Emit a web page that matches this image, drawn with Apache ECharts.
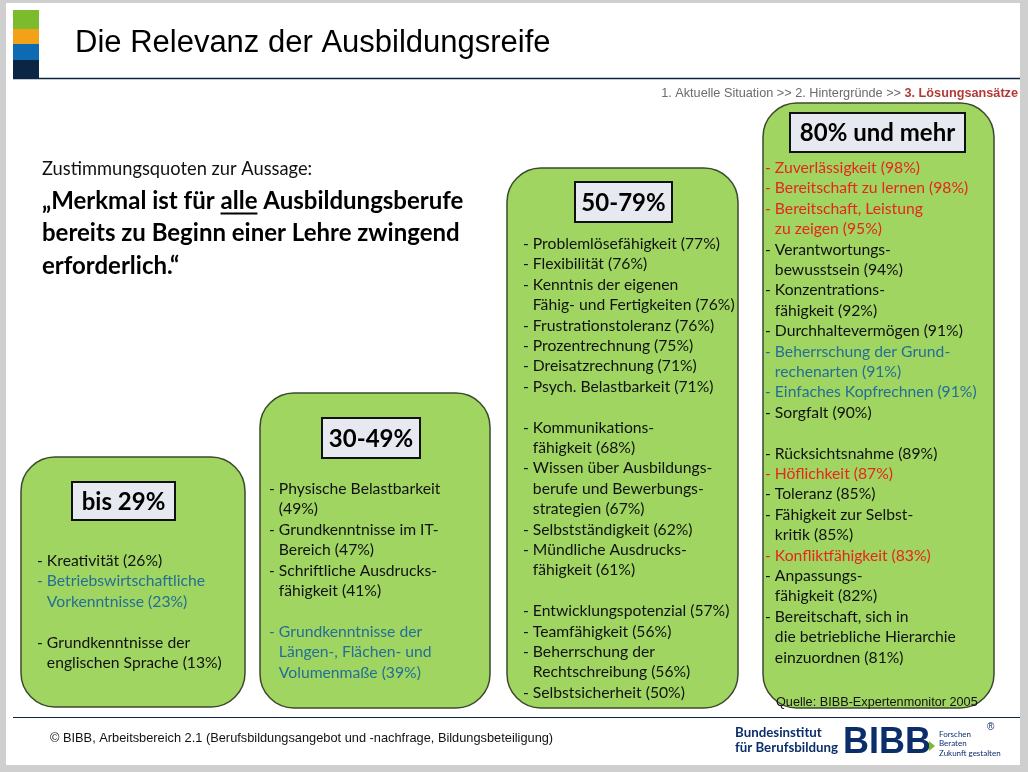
<!DOCTYPE html>
<html><head><meta charset="utf-8">
<script src="https://cdn.jsdelivr.net/npm/echarts@6/dist/echarts.min.js"></script>
<style>html,body{margin:0;padding:0;background:#cfcfcf}#c{width:1028px;height:772px}</style>
</head><body><div id="c"></div>
<script>
// ---------- data ----------
const slideTitle = 'Die Relevanz der Ausbildungsreife';
const breadcrumb = ['1. Aktuelle Situation >> 2. Hintergründe >> ', '3. Lösungsansätze'];
const introLine = 'Zustimmungsquoten zur Aussage:';
const quoteLines = ['„Merkmal ist für |alle| Ausbildungsberufe', 'bereits zu Beginn einer Lehre zwingend', 'erforderlich.“'];
const groupLabels = ['bis 29%', '30-49%', '50-79%', '80% und mehr'];
// items: paragraphs of [name, value, tone]  (tone: k = black, b = blue, r = red)
const group1Items = [
  [['Kreativität', 26, 'k'], ['Betriebswirtschaftliche\nVorkenntnisse', 23, 'b']],
  [['Grundkenntnisse der\nenglischen Sprache', 13, 'k']]
];
const group2Items = [
  [['Physische Belastbarkeit\n', 49, 'k'], ['Grundkenntnisse im IT-\nBereich', 47, 'k'], ['Schriftliche Ausdrucks-\nfähigkeit', 41, 'k']],
  [['Grundkenntnisse der\nLängen-, Flächen- und\nVolumenmaße', 39, 'b']]
];
const group3Items = [
  [['Problemlösefähigkeit', 77, 'k'], ['Flexibilität', 76, 'k'], ['Kenntnis der eigenen\nFähig- und Fertigkeiten', 76, 'k'], ['Frustrationstoleranz', 76, 'k'], ['Prozentrechnung', 75, 'k'], ['Dreisatzrechnung', 71, 'k'], ['Psych. Belastbarkeit', 71, 'k']],
  [['Kommunikations-\nfähigkeit', 68, 'k'], ['Wissen über Ausbildungs-\nberufe und Bewerbungs-\nstrategien', 67, 'k'], ['Selbstständigkeit', 62, 'k'], ['Mündliche Ausdrucks-\nfähigkeit', 61, 'k']],
  [['Entwicklungspotenzial', 57, 'k'], ['Teamfähigkeit', 56, 'k'], ['Beherrschung der\nRechtschreibung', 56, 'k'], ['Selbstsicherheit', 50, 'k']]
];
const group4Items = [
  [['Zuverlässigkeit', 98, 'r'], ['Bereitschaft zu lernen', 98, 'r'], ['Bereitschaft, Leistung\nzu zeigen', 95, 'r'], ['Verantwortungs-\nbewusstsein', 94, 'k'], ['Konzentrations-\nfähigkeit', 92, 'k'], ['Durchhaltevermögen', 91, 'k'], ['Beherrschung der Grund-\nrechenarten', 91, 'b'], ['Einfaches Kopfrechnen', 91, 'b'], ['Sorgfalt', 90, 'k']],
  [['Rücksichtsnahme', 89, 'k'], ['Höflichkeit', 87, 'r'], ['Toleranz', 85, 'k'], ['Fähigkeit zur Selbst-\nkritik', 85, 'k'], ['Konfliktfähigkeit', 83, 'r'], ['Anpassungs-\nfähigkeit', 82, 'k'], ['Bereitschaft, sich in\ndie betriebliche Hierarchie\neinzuordnen', 81, 'k']]
];
const sourceNote = 'Quelle: BIBB-Expertenmonitor 2005';
const footerNote = '© BIBB, Arbeitsbereich 2.1 (Berufsbildungsangebot und -nachfrage, Bildungsbeteiligung)';
const logoLeft = ['Bundesinstitut', 'für Berufsbildung'];
const logoMark = 'BIBB';
const logoClaim = ['Forschen', 'Beraten', 'Zukunft gestalten'];

// ---------- layout / style ----------
const toneColor = {k: '#111111', b: '#236f96', r: '#e5271c'};
const boxes = [
  {x: 21, y: 457, w: 224, h: 250, lx: 72, ly: 482, lw: 103, lh: 38, tx: 37, ty: 561},
  {x: 260, y: 393, w: 230, h: 315, lx: 322, ly: 418, lw: 98, lh: 40, tx: 269, ty: 489},
  {x: 507, y: 168, w: 231, h: 540, lx: 575, ly: 182, lw: 97, lh: 40, tx: 523, ty: 244},
  {x: 763, y: 103, w: 231, h: 605, lx: 790, ly: 113, lw: 175, lh: 39, tx: 765, ty: 168}
];
const allItems = [group1Items, group2Items, group3Items, group4Items];
const LH = 20.4;
const bodyFont = 'Lato, "Open Sans", sans-serif';
const arial = '"Liberation Sans", Arial, sans-serif';

const ctx = document.createElement('canvas').getContext('2d');
function tw(text, font) { ctx.font = font; return ctx.measureText(text).width; }

const g = [];
// slide
g.push({type: 'rect', shape: {x: 6, y: 3, width: 1014, height: 762}, style: {fill: '#ffffff'}, silent: true});
// logo bars
[['#7bbb2c', 10, 19], ['#f4a11a', 29, 15], ['#0d6ab3', 44, 16], ['#0b2545', 60, 18]].forEach(b => {
  g.push({type: 'rect', shape: {x: 13, y: b[1], width: 26, height: b[2]}, style: {fill: b[0]}});
});
g.push({type: 'line', shape: {x1: 13, y1: 78.5, x2: 1020, y2: 78.5}, style: {stroke: '#0b2545', lineWidth: 1.5}});
g.push({type: 'text', x: 75, y: 43, style: {text: slideTitle, font: '31px ' + arial, fill: '#000', verticalAlign: 'middle'}});
// breadcrumb
const bcFontA = '12.7px ' + arial, bcFontB = 'bold 12.7px ' + arial;
const bcW2 = tw(breadcrumb[1], bcFontB);
g.push({type: 'text', x: 1018 - bcW2, y: 93, style: {text: breadcrumb[0], font: bcFontA, fill: '#6b6b6b', align: 'right', verticalAlign: 'middle'}});
g.push({type: 'text', x: 1018, y: 93, style: {text: breadcrumb[1], font: bcFontB, fill: '#b23a36', align: 'right', verticalAlign: 'middle'}});
// intro
g.push({type: 'text', x: 42, y: 169, style: {text: introLine, font: '18.3px ' + bodyFont, fill: '#111', verticalAlign: 'middle'}});
const qFont = 'bold 24px ' + bodyFont;
quoteLines.forEach((ln, i) => {
  const y = 201 + i * 32.5;
  const parts = ln.split('|');
  let x = 42;
  parts.forEach((p, j) => {
    g.push({type: 'text', x: x, y: y, style: {text: p, font: qFont, fill: '#000', verticalAlign: 'middle'}});
    const w = tw(p, qFont);
    if (j === 1) g.push({type: 'line', shape: {x1: x, y1: y + 12.5, x2: x + w, y2: y + 12.5}, style: {stroke: '#000', lineWidth: 2}});
    x += w;
  });
});
// boxes
const itemFont = '15.7px ' + bodyFont;
const dashW = tw('- ', itemFont);
boxes.forEach((b, gi) => {
  g.push({type: 'rect', shape: {x: b.x, y: b.y, width: b.w, height: b.h, r: 34}, style: {fill: '#a0d562', stroke: '#3b4a2c', lineWidth: 1.5}});
  g.push({type: 'rect', shape: {x: b.lx, y: b.ly, width: b.lw, height: b.lh}, style: {fill: '#e7e9f1', stroke: '#111', lineWidth: 2}});
  g.push({type: 'text', x: b.lx + b.lw / 2, y: b.ly + b.lh / 2 + 1, style: {text: groupLabels[gi], font: 'bold 24px ' + bodyFont, fill: '#000', align: 'center', verticalAlign: 'middle'}});
  let line = 0;
  allItems[gi].forEach((para, pi) => {
    if (pi > 0) line += 1;
    para.forEach(it => {
      const name = it[0];
      const full = name.endsWith('\n') ? name + '(' + it[1] + '%)' : name + ' (' + it[1] + '%)';
      full.split('\n').forEach((seg, si) => {
        g.push({type: 'text', x: b.tx + (si ? dashW : 0), y: b.ty + line * LH,
          style: {text: (si ? '' : '- ') + seg, font: itemFont, fill: toneColor[it[2]], verticalAlign: 'middle'}});
        line++;
      });
    });
  });
});
g.push({type: 'text', x: 776, y: 702, style: {text: sourceNote, font: '12.7px ' + arial, fill: '#111', verticalAlign: 'middle'}});
// footer
g.push({type: 'line', shape: {x1: 13, y1: 717.5, x2: 1020, y2: 717.5}, style: {stroke: '#0b2545', lineWidth: 1.2}});
g.push({type: 'text', x: 50, y: 738, style: {text: footerNote, font: '12.8px ' + arial, fill: '#111', verticalAlign: 'middle'}});
logoLeft.forEach((t, i) => g.push({type: 'text', x: 735, y: 733 + i * 15, style: {text: t, font: 'bold 13.3px ' + bodyFont, fill: '#0b2e6b', verticalAlign: 'middle'}}));
g.push({type: 'text', x: 843, y: 743, style: {text: logoMark, font: 'bold 36px ' + arial, fill: '#0b2e6b', verticalAlign: 'middle'}});
g.push({type: 'polygon', shape: {points: [[929, 741], [929, 751], [935, 746]]}, style: {fill: '#7bbb2c'}});
logoClaim.forEach((t, i) => g.push({type: 'text', x: 939, y: 734 + i * 9.5, style: {text: t, font: '8px ' + bodyFont, fill: '#0b2e6b', verticalAlign: 'middle'}}));
g.push({type: 'text', x: 987, y: 727, style: {text: '®', font: '10px ' + arial, fill: '#0b2e6b', verticalAlign: 'middle'}});

const chart = echarts.init(document.getElementById('c'), null, {renderer: 'canvas'});
chart.setOption({animation: false, backgroundColor: '#cfcfcf', graphic: {elements: g}});
</script></body></html>
